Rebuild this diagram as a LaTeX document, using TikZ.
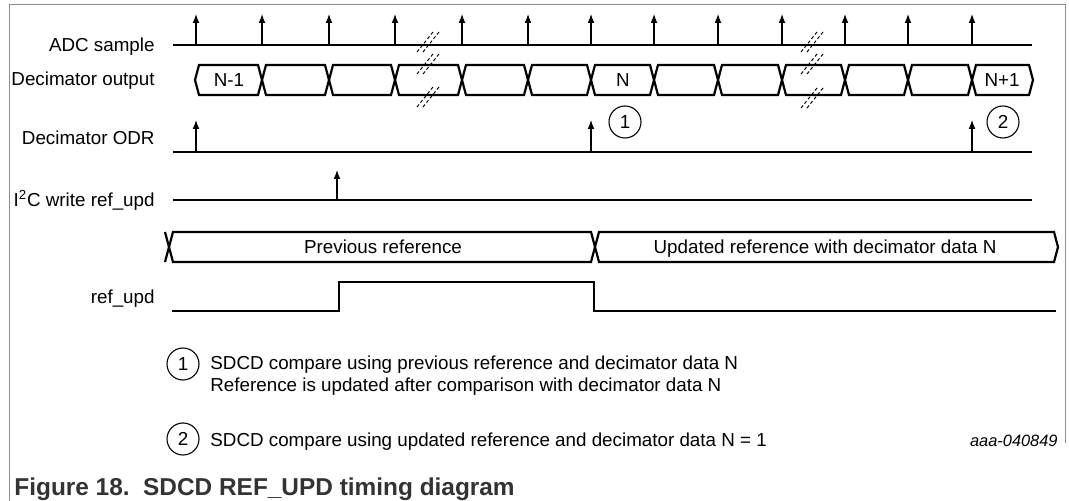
\documentclass[tikz,border=0pt]{standalone}
\usepackage{fontspec}
\setmainfont{Liberation Sans}
\usepackage{xcolor}
\newcommand{\bus}[3]{\draw[busline] (#1,#3)--(#1+4,#3-15)--(#2-4,#3-15)--(#2,#3)--(#2-4,#3+15)--(#1+4,#3+15)--cycle;}
\newcommand{\smp}[3]{\draw[tickline] (#1,#2)--(#1,#3);}
\newcommand{\brk}[2]{\draw[brkline] (#1-11,#2+10)--(#1+5,#2-10); \draw[brkline] (#1-5,#2+10)--(#1+11,#2-10);}
\usepackage{tikz}
\usetikzlibrary{arrows.meta}
\tikzset{
  sigline/.style={line width=1.3pt},
  busline/.style={line width=1.1pt, line join=miter},
  tickline/.style={line width=0.55pt, -{Latex[length=4.5pt,width=3.4pt]}},
  brkline/.style={line width=0.5pt, dash pattern=on 1.6pt off 1.2pt},
  numcirc/.style={circle, draw, line width=0.55pt, minimum size=16pt, inner sep=0pt},
  lbl/.style={anchor=base east, inner sep=0pt},
  txt/.style={anchor=base west, inner sep=0pt},
  mid/.style={anchor=base, inner sep=0pt},
  every node/.style={font=\fontsize{9.4}{11}\selectfont}
}

\begin{document}
\begin{tikzpicture}[x=0.5pt, y=-0.5pt]

\useasboundingbox (0,0) rectangle (1069,501);
\draw[black!45, line width=0.5pt] (9,501)--(9,5)--(1065,5)--(1065,443);

% signal names
\node[lbl] (adcname) at (155,52) {ADC sample};
\node[lbl] (decname) at (155,86) {Decimator output};
\node[lbl] (odrname) at (155,145) {Decimator ODR};
\node[lbl] (i2cname) at (155,207) {I\textsuperscript{2}C write ref\_upd};
\node[lbl] (updname) at (155,304) {ref\_upd};

% ADC sample
\draw[sigline] (173,45)--(1032,45);
\smp{196}{45}{14};
\smp{262}{45}{14};
\smp{329}{45}{14};
\smp{395}{45}{14};
\smp{462}{45}{14};
\smp{528}{45}{14};
\smp{591}{45}{14};
\smp{654}{45}{14};
\smp{718}{45}{14};
\smp{782}{45}{14};
\smp{845}{45}{14};
\smp{908}{45}{14};
\smp{972}{45}{14};

% decimator output
\bus{195}{262}{80};
\bus{262}{329}{80};
\bus{329}{395}{80};
\bus{395}{462}{80};
\bus{462}{528}{80};
\bus{528}{591}{80};
\bus{591}{654}{80};
\bus{654}{718}{80};
\bus{718}{782}{80};
\bus{782}{845}{80};
\bus{845}{908}{80};
\bus{908}{972}{80};
\bus{972}{1033}{80};
\node[mid] (dnm1) at (229,87) {N-1};
\node[mid] (dn) at (623,87) {N};
\node[mid] (dnp1) at (1002,87) {N+1};

% breaks
\brk{428}{42};
\brk{428}{64};
\brk{428}{97};
\brk{812}{42};
\brk{812}{64};
\brk{812}{98};

% decimator ODR
\draw[sigline] (173,152)--(1032,152);
\smp{196}{152}{120};
\smp{591}{152}{120};
\smp{972}{152}{120};
\node[numcirc] (odr1) at (625,122) {1};
\node[numcirc] (odr2) at (1003,122) {2};

% I2C write
\draw[sigline] (173,200)--(1032,200);
\smp{337}{200}{170};

% reference
\draw[busline] (165,232)--(169,247)--(165,262);
\bus{169}{595}{247};
\bus{595}{1058}{247};
\node[mid] (prevref) at (383,254) {Previous reference};
\node[mid] (updref) at (825,254) {Updated reference with decimator data N};

% ref_upd
\draw[sigline] (172,311)--(339,311)--(339,282)--(594,282)--(594,311)--(1056,311);

% notes
\node[numcirc] (note1) at (183,364) {1};
\node[txt] (note1a) at (210,369.5) {SDCD compare using previous reference and decimator data N};
\node[txt] (note1b) at (210,391.5) {Reference is updated after comparison with decimator data N};
\node[numcirc] (note2) at (183,439) {2};
\node[txt] (note2a) at (210,446) {SDCD compare using updated reference and decimator data N = 1};
\node[anchor=base east, inner sep=0pt, font=\fontsize{8.2}{10}\selectfont\itshape] (figid) at (1058,446) {aaa-040849};

\node[txt, text=black!80, font=\fontsize{12.2}{14}\selectfont\bfseries] (caption) at (14,495) {Figure 18.\ \ SDCD REF\_UPD timing diagram};

\end{tikzpicture}
\end{document}
